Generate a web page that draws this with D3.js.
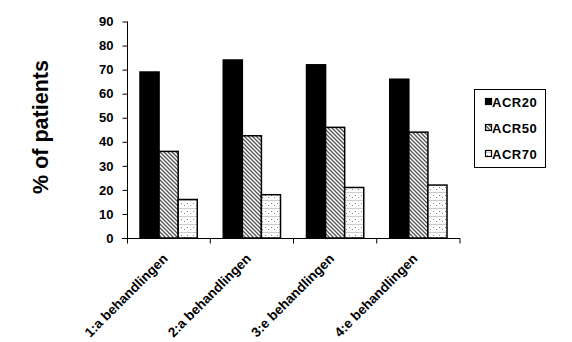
<!DOCTYPE html>
<html><head><meta charset="utf-8">
<script src="https://cdn.jsdelivr.net/npm/d3@7"></script>
<style>body{margin:0;background:#fff}svg{display:block}</style>
</head><body>
<script>
const categories = ["1:a behandlingen","2:a behandlingen","3:e behandlingen","4:e behandlingen"];
const seriesNames = ["ACR20","ACR50","ACR70"];
const acr20 = [69, 74, 72, 66];
const acr50 = [36, 42.5, 46, 44];
const acr70 = [16, 18, 21, 22];
const yTicks = [0,10,20,30,40,50,60,70,80,90];
const values = [acr20, acr50, acr70];

const W = 572, H = 342;
const svg = d3.select("body").append("svg").attr("width", W).attr("height", H);
const defs = svg.append("defs");
const p50 = defs.append("pattern").attr("id","p50").attr("patternUnits","userSpaceOnUse")
  .attr("width",4).attr("height",4);
p50.append("rect").attr("width",4).attr("height",4).attr("fill","#fff");
p50.append("path").attr("d","M-1,-1 L5,5 M-1,3 L1,5 M3,-1 L5,1").attr("stroke","#555").attr("stroke-width",1.3);
const p70 = defs.append("pattern").attr("id","p70").attr("patternUnits","userSpaceOnUse")
  .attr("width",6).attr("height",8);
p70.append("rect").attr("width",6).attr("height",8).attr("fill","#fff");
p70.append("rect").attr("x",0).attr("y",0).attr("width",6).attr("height",1).attr("fill","#ccc");
p70.append("rect").attr("x",1).attr("y",3).attr("width",1).attr("height",1).attr("fill","#888");
p70.append("rect").attr("x",4).attr("y",5).attr("width",1).attr("height",1).attr("fill","#888");
const fills = ["#000","url(#p50)","url(#p70)"];

const x0 = d3.scaleBand().domain(categories).range([127, 460]).paddingInner(0).paddingOuter(0);
const x1 = d3.scaleBand().domain(seriesNames).range([13, x0.bandwidth()-13]).padding(0);
const y = d3.scaleLinear().domain([0,90]).range([238, 21.5]);

const font = "Arial, 'Liberation Sans', sans-serif";

// bars
categories.forEach((c, i) => {
  seriesNames.forEach((s, j) => {
    svg.append("rect")
      .attr("x", x0(c) + x1(s))
      .attr("y", y(values[j][i]))
      .attr("width", x1.bandwidth())
      .attr("height", y(0) - y(values[j][i]))
      .attr("fill", fills[j])
      .attr("stroke", "#000").attr("stroke-width", 1.5);
  });
});

// y axis
const yAxis = svg.append("g").attr("transform","translate(127.5,0)")
  .call(d3.axisLeft(y).tickValues(yTicks).tickSize(5).tickPadding(9).tickFormat(d3.format("d")));
yAxis.select(".domain").attr("stroke","#000").attr("d","M0,"+y(90)+"V"+y(0));
yAxis.selectAll("text").attr("font-family",font).attr("font-weight","bold").attr("font-size","13px").attr("fill","#000");

// x axis
const xg = svg.append("g").attr("transform","translate(0,"+(y(0)+0.5)+")");
xg.append("line").attr("x1",122).attr("x2",460).attr("stroke","#000");
const tickPos = [127.5].concat(categories.map(c => x0(c)+x0.bandwidth()));
xg.selectAll(".xt").data(tickPos).enter().append("line")
  .attr("x1",d=>d).attr("x2",d=>d).attr("y1",0).attr("y2",5).attr("stroke","#000");
xg.selectAll(".xl").data(categories).enter().append("text")
  .attr("transform", d => "translate(" + (x0(d)+x0.bandwidth()/2) + ",21) rotate(-45)")
  .attr("text-anchor","end")
  .attr("font-family",font).attr("font-weight","bold").attr("font-size","13.5px")
  .text(d => d);

// y title
svg.append("text").attr("transform","translate(48,127) rotate(-90)")
  .attr("text-anchor","middle").attr("font-family",font).attr("font-weight","bold")
  .attr("font-size","21.5px").text("% of patients");

// legend
const lg = svg.append("g");
lg.append("rect").attr("x",474.5).attr("y",89.5).attr("width",71).attr("height",78)
  .attr("fill","#fff").attr("stroke","#000");
seriesNames.forEach((s, j) => {
  const cy = 102 + j*26;
  lg.append("rect").attr("x",485.5).attr("y",cy-3.5).attr("width",6).attr("height",6)
    .attr("fill",fills[j]).attr("stroke","#000").attr("stroke-width",1.2);
  lg.append("text").attr("x",492).attr("y",cy+4.5).attr("font-family",font)
    .attr("font-weight","bold").attr("font-size","13px").attr("letter-spacing","0.5px").text(s);
});
</script>
</body></html>
